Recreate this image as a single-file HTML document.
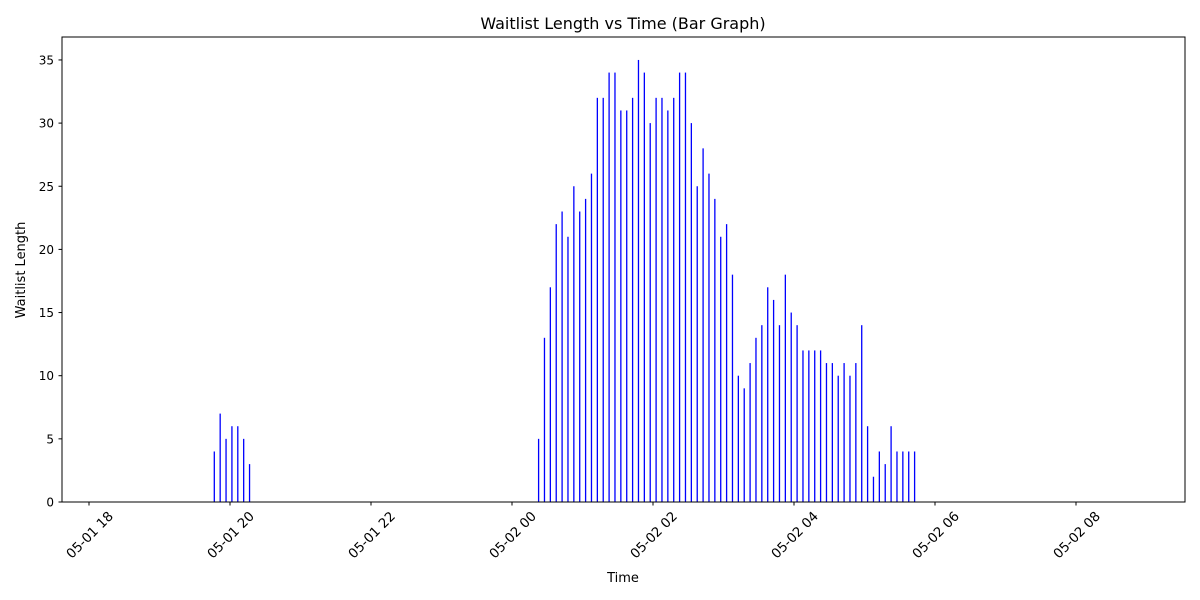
<!DOCTYPE html>
<html><head><meta charset="utf-8"><style>
body{margin:0;background:#fff;}
svg{display:block;font-family:"DejaVu Sans","Liberation Sans",sans-serif;}
</style></head><body>
<svg id="chart" width="1200" height="600">
<rect x="0" y="0" width="1200" height="600" fill="#fff"/>
<text x="623" y="29" font-size="16" text-anchor="middle">Waitlist Length vs Time (Bar Graph)</text>
<g id="bars"></g>
<g id="yaxis"></g>
<g id="xaxis"></g>
<rect x="62" y="37" width="1123" height="465" fill="none" stroke="#000" stroke-width="1"/>
<text x="623" y="582" font-size="13" text-anchor="middle">Time</text>
<text transform="translate(25,270) rotate(-90)" font-size="13" text-anchor="middle">Waitlist Length</text>
</svg>
<script>
// Data: two groups of readings at 5-minute intervals
const group1Start = "2024-05-01T19:46";
const group1Values = [4,7,5,6,6,5,3];
const group2Start = "2024-05-02T00:22";
const group2Values = [5,13,17,22,23,21,25,23,24,26,32,32,34,34,31,31,32,35,34,30,32,32,31,32,34,34,30,25,28,26,24,21,22,18,10,9,11,13,14,17,16,14,18,15,14,12,12,12,12,11,11,10,11,10,11,14,6,2,4,3,6,4,4,4,4];
const yTicks = [0,5,10,15,20,25,30,35];
const xTickLabels = ["05-01 18","05-01 20","05-01 22","05-02 00","05-02 02","05-02 04","05-02 06","05-02 08"];
const xTickTimes = ["2024-05-01T18:00","2024-05-01T20:00","2024-05-01T22:00","2024-05-02T00:00","2024-05-02T02:00","2024-05-02T04:00","2024-05-02T06:00","2024-05-02T08:00"];

const NS="http://www.w3.org/2000/svg";
const ref = new Date("2024-05-01T18:00").getTime();
function xs(t){ return 89 + (new Date(t).getTime()-ref)/3600000*70.5; }
function xms(ms){ return 89 + (ms-ref)/3600000*70.5; }
function ys(v){ return 502 - v*12.63; }
function mk(tag, attrs, parent){ const e=document.createElementNS(NS,tag); for(const k in attrs) e.setAttribute(k,attrs[k]); parent.appendChild(e); return e; }

const bars=document.getElementById('bars');
function drawGroup(start, vals){
  const s=new Date(start).getTime();
  vals.forEach((v,i)=>{
    const x=xms(s+i*300000)+0.7;
    const r=mk('rect',{x:x-0.6,y:ys(v),width:1.3,height:ys(0)-ys(v),fill:'#0000ff'},bars);
    
    
  });
}
drawGroup(group1Start, group1Values);
drawGroup(group2Start, group2Values);

const ya=document.getElementById('yaxis');
yTicks.forEach(v=>{
  const y=ys(v);
  const l=mk('line',{x1:58.5,x2:62,y1:y,y2:y,stroke:'#000'},ya);
  
  
  const t=mk('text',{x:54,y:y+4.5,'font-size':12,'text-anchor':'end'},ya);
  t.textContent=v;
  
  
});
const xa=document.getElementById('xaxis');
xTickTimes.forEach((tt,i)=>{
  const x=xs(tt);
  const l=mk('line',{x1:x,x2:x,y1:502,y2:505.5,stroke:'#000'},xa);
  
  
  const t=mk('text',{transform:`translate(${x+25},517) rotate(-45)`,'font-size':13.3,'text-anchor':'end'},xa);
  t.textContent=xTickLabels[i];
  
  
});
</script>
</body></html>
